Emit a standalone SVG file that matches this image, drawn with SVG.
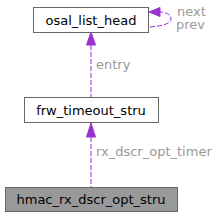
<svg xmlns="http://www.w3.org/2000/svg" width="218" height="216" viewBox="0 0 218 216">
<style>
.box{fill:#fff;stroke:#666;stroke-width:1}
.cur{fill:#999;stroke:#666;stroke-width:1}
.t{font-family:"DejaVu Sans",sans-serif;font-size:13px;fill:#000;text-anchor:middle}
.l{font-family:"DejaVu Sans",sans-serif;font-size:13px;fill:#9a9a9a}
.e{fill:none;stroke:#9a32cd;stroke-width:1;stroke-dasharray:5,2}
.h{fill:#9a32cd;stroke:#9a32cd}
</style>
<rect width="218" height="216" fill="#fff"/>
<g id="edges">
<path class="e" d="M150,27 C161,26 171,24 171,19 C171,14 165,12 160,12"/>
<polygon class="h" points="149,12 160,7.5 160,16.5"/>
<path class="e" d="M91,45 V97"/>
<polygon class="h" points="91,32 86.5,45 95.5,45"/>
<path class="e" d="M91,137 V187"/>
<polygon class="h" points="91,123 86.5,137 95.5,137"/>
<text class="l" x="177" y="16">next</text>
<text class="l" x="176" y="29">prev</text>
<text class="l" x="96" y="69">entry</text>
<text class="l" x="96" y="156">rx_dscr_opt_timer</text>
</g>
<g id="osal_list_head">
<rect class="box" x="33.5" y="7.5" width="115" height="25"/>
<text class="t" x="91" y="24.5">osal_list_head</text>
</g>
<g id="frw_timeout_stru">
<rect class="box" x="24.5" y="97.5" width="134" height="25"/>
<text class="t" x="91" y="114.5">frw_timeout_stru</text>
</g>
<g id="hmac_rx_dscr_opt_stru">
<rect class="cur" x="5.5" y="187.5" width="172" height="24"/>
<text class="t" x="91" y="204">hmac_rx_dscr_opt_stru</text>
</g>
</svg>
